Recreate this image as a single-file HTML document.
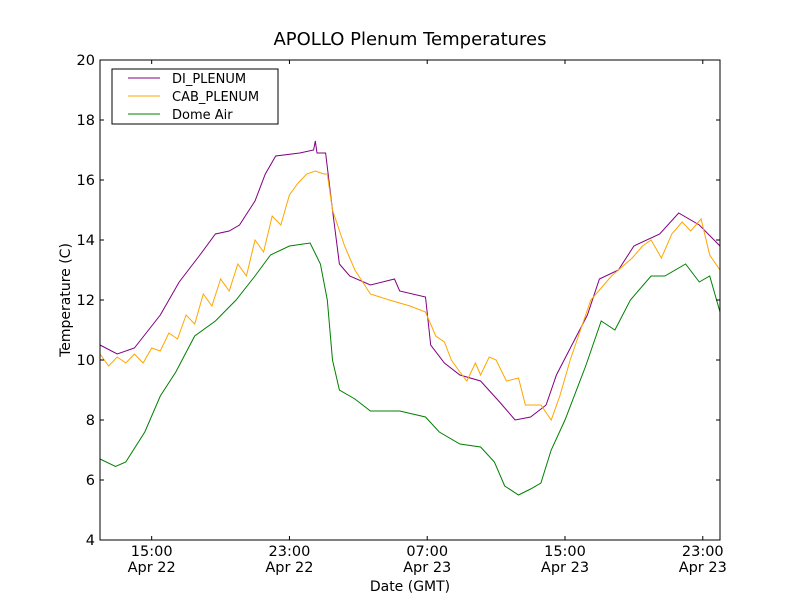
<!DOCTYPE html>
<html><head><meta charset="utf-8"><style>
body{margin:0;background:#fff;}
text{font-family:"DejaVu Sans","Liberation Sans",sans-serif;fill:#000;}
</style></head><body>
<svg id="chart" width="800" height="600" xmlns="http://www.w3.org/2000/svg">
<rect width="800" height="600" fill="#fff"/>
<text x="410" y="45" font-size="18" text-anchor="middle">APOLLO Plenum Temperatures</text>
<g id="plot"></g>
<text x="410" y="591" font-size="14" text-anchor="middle">Date (GMT)</text>
<text x="0" y="0" font-size="14" text-anchor="middle" transform="translate(70,300) rotate(-90)">Temperature (C)</text>
</svg>
<script>
const diT=[12,13,14,15.5,16.6,17.8,18.7,19.5,20.1,21,21.6,22.2,23.6,24.4,24.5,24.6,25.1,25.5,25.9,26.5,27.7,29.1,29.4,30.9,31.2,32,32.9,34.1,35.2,36.1,37,37.9,38.5,39.4,40.3,41,42.1,43,44.5,45.6,46.8,48];
const diV=[10.5,10.2,10.4,11.5,12.6,13.5,14.2,14.3,14.5,15.3,16.2,16.8,16.9,17.0,17.3,16.9,16.9,15.0,13.2,12.8,12.5,12.7,12.3,12.1,10.5,9.9,9.5,9.3,8.6,8.0,8.1,8.5,9.5,10.5,11.5,12.7,13.0,13.8,14.2,14.9,14.5,13.8];
const cabT=[12,12.5,13,13.5,14,14.5,15,15.5,16,16.5,17,17.5,18,18.5,19,19.5,20,20.5,21,21.5,22,22.5,23,23.5,24,24.5,25,25.2,25.5,26.2,26.8,27.7,28.8,30,30.9,31.5,32,32.4,32.9,33.3,33.8,34.1,34.6,35,35.6,36.3,36.7,37.6,38.2,38.7,39.3,40.5,41.7,42.9,43.5,44,44.6,45.2,45.8,46.3,46.9,47.4,48];
const cabV=[10.2,9.8,10.1,9.9,10.2,9.9,10.4,10.3,10.9,10.7,11.5,11.2,12.2,11.8,12.7,12.3,13.2,12.8,14.0,13.6,14.8,14.5,15.5,15.9,16.2,16.3,16.2,16.2,15.0,13.8,13.0,12.2,12.0,11.8,11.6,10.8,10.6,10.0,9.6,9.3,9.9,9.5,10.1,10.0,9.3,9.4,8.5,8.5,8.0,8.8,10.0,12.0,12.8,13.4,13.8,14.0,13.4,14.2,14.6,14.3,14.7,13.5,13.0];
const domeT=[12,12.9,13.5,14.6,15.5,16.4,17.5,18.7,19.9,21,21.9,23,24.2,24.8,25.2,25.5,25.9,26.8,27.7,29.4,30.9,31.7,32.9,34.1,34.9,35.5,36.3,37,37.6,38.2,39,40.2,41.1,41.9,42.8,44,44.8,46,46.8,47.4,48];
const domeV=[6.7,6.45,6.6,7.6,8.8,9.6,10.8,11.3,12,12.8,13.5,13.8,13.9,13.2,12,10,9,8.7,8.3,8.3,8.1,7.6,7.2,7.1,6.6,5.8,5.5,5.7,5.9,7,8,9.8,11.3,11,12,12.8,12.8,13.2,12.6,12.8,11.6];
const yTicks=[4,6,8,10,12,14,16,18,20];
const xTickHours=[15,23,31,39,47];
const xTickTime=["15:00","23:00","07:00","15:00","23:00"];
const xTickDate=["Apr 22","Apr 22","Apr 23","Apr 23","Apr 23"];

const L=100,R=720,T=60,B=540,t0=12,t1=48,v0=4,v1=20;
const xs=t=>L+(t-t0)*(R-L)/(t1-t0);
const ys=v=>B-(v-v0)*(B-T)/(v1-v0);
const NS="http://www.w3.org/2000/svg";
const g=document.getElementById('plot');
function mk(tag,a){const e=document.createElementNS(NS,tag);for(const k in a)e.setAttribute(k,a[k]);g.appendChild(e);return e;}
function series(T_,V_,color,name){
  const d=T_.map((t,i)=>(i?'L':'M')+xs(t).toFixed(1)+','+ys(V_[i]).toFixed(1)).join('');
  const p=mk('path',{d:d,fill:'none',stroke:color,'stroke-width':1});
  
  
}
series(diT,diV,'#800080','di-plenum-line');
series(cabT,cabV,'#ffa500','cab-plenum-line');
series(domeT,domeV,'#008000','dome-air-line');
const frame=mk('rect',{x:L,y:T,width:R-L,height:B-T,fill:'none',stroke:'#000','stroke-width':1});


yTicks.forEach(v=>{
  const y=ys(v);
  mk('line',{x1:L,x2:L+4,y1:y,y2:y,stroke:'#000'});
  mk('line',{x1:R,x2:R-4,y1:y,y2:y,stroke:'#000'});
  const tx=mk('text',{x:L-5,y:y+5,'font-size':14.5,'text-anchor':'end'});
  tx.textContent=v;
  
  
});
xTickHours.forEach((h,i)=>{
  const x=xs(h);
  mk('line',{x1:x,x2:x,y1:B,y2:B-4,stroke:'#000'});
  mk('line',{x1:x,x2:x,y1:T,y2:T+4,stroke:'#000'});
  const a=mk('text',{x:x,y:B+16,'font-size':14.5,'text-anchor':'middle'});
  a.textContent=xTickTime[i];
  
  
  const b=mk('text',{x:x,y:B+32,'font-size':14.5,'text-anchor':'middle'});
  b.textContent=xTickDate[i];
  
  
});
const lg=mk('rect',{x:112,y:69,width:166,height:55,fill:'#fff',stroke:'#000'});


[['DI_PLENUM','#800080'],['CAB_PLENUM','#ffa500'],['Dome Air','#008000']].forEach((e,i)=>{
  const y=78+i*18;
  mk('line',{x1:128,x2:160,y1:y,y2:y,stroke:e[1]});
  const t=mk('text',{x:172,y:y+5,'font-size':13});
  t.textContent=e[0];
  
  
});
</script>
</body></html>
